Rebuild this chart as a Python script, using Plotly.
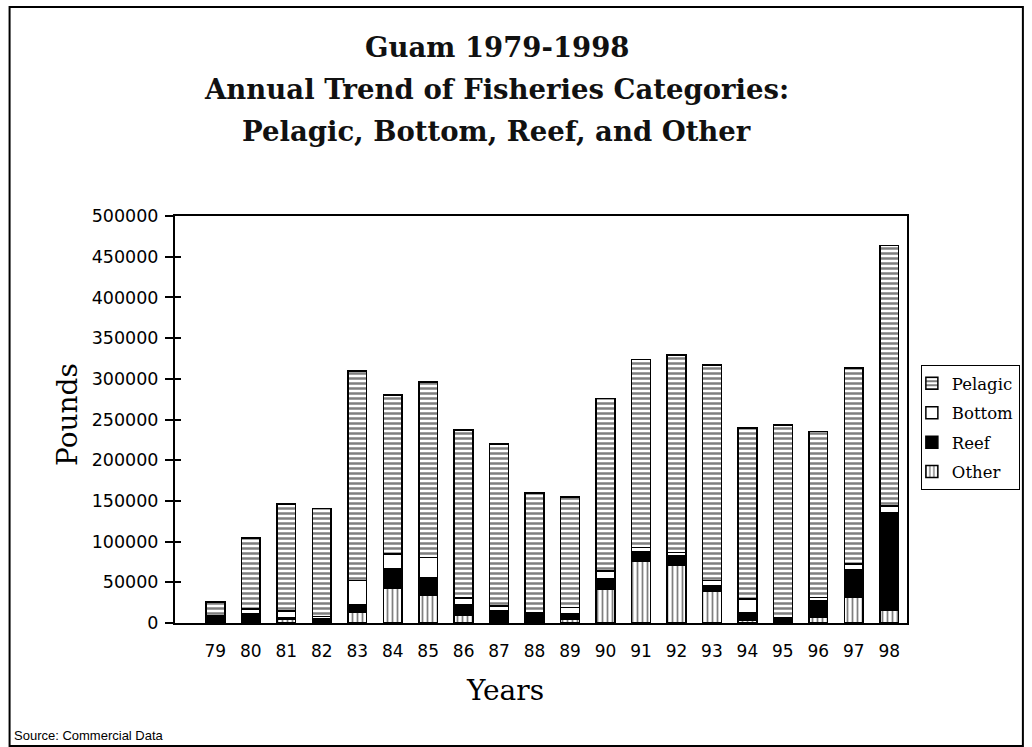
import plotly.graph_objects as go

years = ["79", "80", "81", "82", "83", "84", "85", "86", "87", "88",
         "89", "90", "91", "92", "93", "94", "95", "96", "97", "98"]
other = [0, 0, 4000, 0, 13000, 42500, 33500, 9000, 0, 0,
         5000, 41700, 75300, 70400, 38500, 2900, 0, 7000, 31500, 15100]
reef = [8000, 11000, 2000, 5000, 9000, 23700, 22500, 13000, 15000, 10000,
        6000, 12300, 12300, 12300, 7400, 10200, 5000, 20500, 34000, 120700]
bottom = [1000, 6000, 9000, 3000, 30000, 18400, 24500, 9000, 6000, 2000,
          8000, 10000, 5300, 4000, 6100, 16400, 2000, 4000, 7000, 8200]
pelagic = [17000, 87700, 131000, 132700, 257500, 195400, 215500, 206000, 199000, 148000,
           136000, 212000, 231000, 242300, 265000, 210000, 236500, 203500, 240500, 320000]

SERIF = "DejaVu Serif"
SANS = "DejaVu Sans"

L, R, T, B = 175, 1032 - 914, 216, 747 - 623
PW, PH = 1032 - L - R, 747 - T - B

def px(xp):
    return (xp - L) / PW

def py(yp):
    return (747 - B - yp) / PH

fig = go.Figure()
line = dict(color="black", width=1.5)
fig.add_trace(go.Bar(x=years, y=other, name="Other", legendgroup="o", legendrank=4,
                     marker=dict(color="white", line=line,
                                 pattern=dict(shape="|", fgcolor="black", bgcolor="white",
                                              size=5, solidity=0.35))))
fig.add_trace(go.Bar(x=years, y=reef, name="Reef", legendgroup="r", legendrank=3,
                     marker=dict(color="black", line=line)))
fig.add_trace(go.Bar(x=years, y=bottom, name="Bottom", legendgroup="b", legendrank=2,
                     marker=dict(color="white", line=line)))
fig.add_trace(go.Bar(x=years, y=pelagic, name="Pelagic", legendgroup="p", legendrank=1,
                     marker=dict(color="white", line=line,
                                 pattern=dict(shape="-", fgcolor="black", bgcolor="white",
                                              size=5, solidity=0.5))))
# invisible trace to draw crossing ticks on an overlay axis
fig.add_trace(go.Scatter(x=[years[0]], y=[0], yaxis="y2", mode="markers",
                         marker=dict(opacity=0), showlegend=False, hoverinfo="skip"))

fig.update_layout(
    width=1032, height=747,
    margin=dict(l=L, r=R, t=T, b=B),
    paper_bgcolor="white", plot_bgcolor="white",
    barmode="stack", bargap=0.47,
    showlegend=True,
    legend=dict(x=px(928), y=py(365), xanchor="left", yanchor="top",
                bordercolor="black", borderwidth=1, bgcolor="white",
                font=dict(family=SERIF, size=16.5, color="black"),
                traceorder="grouped", itemwidth=30, tracegroupgap=5,
                indentation=-10),
    xaxis=dict(showline=True, linecolor="black", linewidth=2, mirror=True,
               ticks="", showgrid=False,
               tickfont=dict(family=SANS, size=17, color="black"),
               ticklabelstandoff=12),
    yaxis=dict(range=[0, 500000], dtick=50000, showline=True, linecolor="black",
               linewidth=2, mirror=True, ticks="outside", ticklen=8, tickwidth=2,
               tickcolor="black", showgrid=False, zeroline=False,
               tickfont=dict(family=SANS, size=17.5, color="black"),
               ticklabelstandoff=3, tickformat="d"),
    yaxis2=dict(range=[0, 500000], dtick=50000, overlaying="y", side="left",
                ticks="inside", ticklen=6, tickwidth=2, tickcolor="black",
                showticklabels=False, showgrid=False, zeroline=False, showline=False),
)

titles = ["Guam 1979-1998",
          "Annual Trend of Fisheries Categories:",
          "Pelagic, Bottom, Reef, and Other"]
for t, yy in zip(titles, [47, 89, 131]):
    fig.add_annotation(text="<b>" + t + "</b>", xref="paper", yref="paper",
                       x=px(500), y=py(yy), xanchor="center", yanchor="middle",
                       showarrow=False, font=dict(family=SERIF, size=27.5, color="#111"))

fig.add_annotation(text="Pounds", xref="paper", yref="paper", x=px(66), y=py(415),
                   textangle=-90, xanchor="center", yanchor="middle", showarrow=False,
                   font=dict(family=SERIF, size=28, color="black"))
fig.add_annotation(text="Years", xref="paper", yref="paper", x=px(508), y=py(690),
                   xanchor="center", yanchor="middle", showarrow=False,
                   font=dict(family=SERIF, size=28, color="black"))
fig.add_annotation(text="Source: Commercial Data", xref="paper", yref="paper",
                   x=px(10), y=py(735), xanchor="left", yanchor="middle", showarrow=False,
                   font=dict(family="Liberation Sans", size=13, color="black"))

fig.add_shape(type="rect", xref="paper", yref="paper",
              x0=px(8), x1=px(1031), y0=py(746), y1=py(7),
              line=dict(color="black", width=2))

fig.write_html("out.html", config={"displayModeBar": False},
               post_script="document.body.style.margin='0px';")
